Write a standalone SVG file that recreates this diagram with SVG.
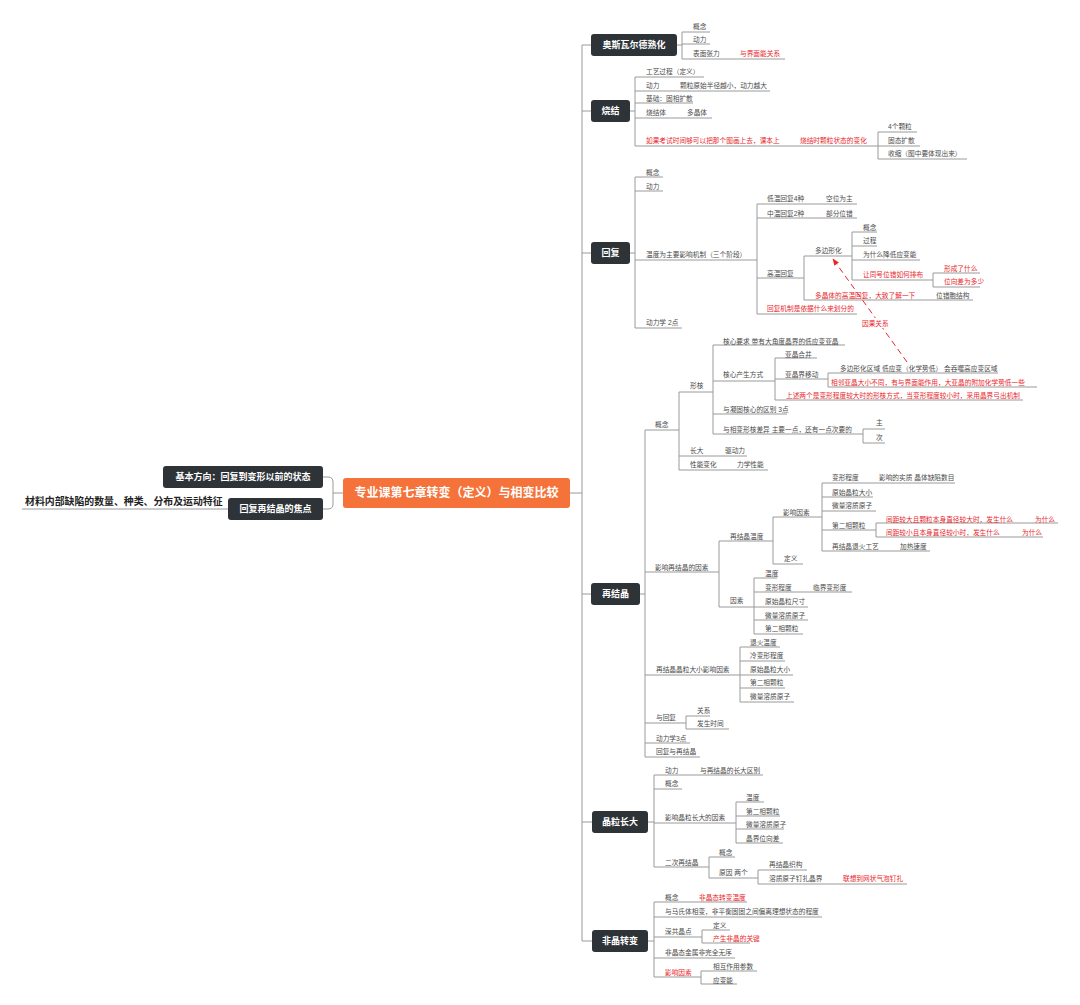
<svg xmlns="http://www.w3.org/2000/svg" width="1080" height="1005" viewBox="0 0 1080 1005">
<defs>
<style>
text{font-family:"Liberation Sans","Noto Sans CJK SC",sans-serif;dominant-baseline:central}
.t{font-size:6.7px;fill:#4a4a4a}
.r{font-size:6.7px;fill:#e8262b}
.n{fill:#2e3338}
.nt{font-size:9px;font-weight:bold;fill:#fff;text-anchor:middle}
.ln{fill:none;stroke:#9a9a9a;stroke-width:1}
.dash{fill:none;stroke:#e8262b;stroke-width:1;stroke-dasharray:6 4}
</style>
<marker id="ah" viewBox="0 0 10 10" refX="9" refY="5" markerWidth="7" markerHeight="7" orient="auto"><path d="M0,1 L10,5 L0,9 z" fill="#e8262b"/></marker>
</defs>
<rect width="1080" height="1005" fill="#fff"/>
<g id="connectors">
<path class="ln" d="M582,45 V941 M570,493 H582 M582,45 H591 M582,111 H591 M582,253 H591 M582,594 H591 M582,822 H592 M582,941 H592"/>
<path class="ln" d="M343,493 H333 M323,477 H328 Q333,477 333,482 V504 Q333,509 328,509 H323 M22,509 H228"/>
<path class="ln" d="M677,45 H682 M682,32 V59 M682,32 H710 M682,44 H710 M682,59 H785"/>
<path class="ln" d="M630,111 H635 M635,77 V146 M635,77 H704 M635,91 H770 M635,103 H693 M635,118 H712 M635,146 H878 M878,132 V159 M878,132 H917 M878,146 H920 M878,159 H967"/>
<path class="ln" d="M630,253 H635 M635,177 V328 M635,177 H663 M635,191 H663 M635,260 H757 M635,328 H682 M757,204 V314 M757,204 H857 M757,218 H857 M757,278 H804 M757,314 H857 M804,256 V300 M804,256 H852 M804,300 H973 M852,232 V280 M852,232 H877 M852,246 H877 M852,260 H920 M852,280 H933 M933,273 V287 M933,273 H980 M933,287 H980"/>
<path class="ln" d="M640,594 H645 M645,430 V757 M645,430 H679 M679,392 V470 M679,392 H713 M679,456 H747 M679,470 H768 M713,345 V434 M713,345 H845 M713,381 H775 M713,414 H787 M713,434 H863 M775,358 V400 M775,358 H817 M775,379 H828 M775,400 H1023 M828,373 V387 M828,373 H998 M828,387 H1037 M863,429 V443 M863,429 H885 M863,443 H885"/>
<path class="ln" d="M645,572 H719 M719,541 V607 M719,541 H773 M719,607 H754 M773,517 V564 M773,517 H822 M773,564 H803 M822,483 V551 M822,483 H955 M822,497 H873 M822,511 H876 M822,530 H876 M822,551 H930 M876,523 V537 M876,523 H1058 M876,537 H1043 M754,578 V634 M754,578 H777 M754,592 H852 M754,607 H808 M754,620 H808 M754,634 H803"/>
<path class="ln" d="M645,675 H740 M740,647 V702 M740,647 H780 M740,661 H785 M740,675 H793 M740,688 H785 M740,702 H794 M645,723 H686 M686,716 V729 M686,716 H710 M686,729 H729 M645,743 H690 M645,757 H700"/>
<path class="ln" d="M648,822 H654 M654,775 V867 M654,775 H763 M654,789 H682 M654,823 H736 M654,867 H709 M736,802 V843 M736,802 H764 M736,816 H780 M736,829 H784 M736,843 H783 M709,857 V878 M709,857 H735 M709,878 H758 M758,870 V884 M758,870 H807 M758,884 H907"/>
<path class="ln" d="M648,941 H654 M654,902 V977 M654,902 H747 M654,917 H822 M654,937 H702 M654,958 H735 M654,977 H701 M702,930 V943 M702,930 H730 M702,943 H750 M701,971 V984 M701,971 H757 M701,984 H737"/>
<path class="dash" d="M907,362 L833,259" marker-end="url(#ah)"/>
<rect x="861" y="318" width="29" height="10" fill="#fff"/>
<text class="r" x="862" y="323">因果关系</text>
</g>
<g id="root"><rect x="343" y="478" width="227" height="30" rx="3" fill="#f5733a"/><text x="456.5" y="493" font-size="12" font-weight="bold" fill="#fff" text-anchor="middle">专业课第七章转变（定义）与相变比较</text></g>
<g id="left-direction"><rect class="n" x="163" y="466" width="160" height="22" rx="3"/><text class="nt" x="243" y="477">基本方向：回复到变形以前的状态</text></g>
<g id="left-focus"><rect class="n" x="228" y="498" width="95" height="22" rx="3"/><text class="nt" x="275.5" y="509">回复再结晶的焦点</text><text x="25" y="501" font-size="9.9" font-weight="bold" fill="#222">材料内部缺陷的数量、种类、分布及运动特征</text></g>
<g id="ostwald"><rect class="n" x="591" y="34" width="86" height="22" rx="3"/><text class="nt" x="634" y="45">奥斯瓦尔德熟化</text>
<text class="t" x="693" y="26">概念</text><text class="t" x="693" y="39">动力</text><text class="t" x="693" y="53">表面张力</text><text class="r" x="740" y="53">与界面能关系</text></g>
<g id="sinter"><rect class="n" x="591" y="100" width="39" height="22" rx="3"/><text class="nt" x="610.5" y="111">烧结</text>
<text class="t" x="646" y="71">工艺过程（定义）</text><text class="t" x="646" y="85">动力</text><text class="t" x="680" y="85">颗粒原始半径越小，动力越大</text><text class="t" x="646" y="98">基础：固相扩散</text><text class="t" x="646" y="112">烧结体</text><text class="t" x="687" y="112">多晶体</text>
<text class="r" x="646" y="140">如果考试时间够可以把那个图画上去，课本上</text><text class="r" x="800" y="140">烧结时颗粒状态的变化</text>
<text class="t" x="888" y="126">4个颗粒</text><text class="t" x="888" y="140">固态扩散</text><text class="t" x="888" y="153">收缩（图中要体现出来）</text></g>
<g id="recovery"><rect class="n" x="591" y="242" width="39" height="22" rx="3"/><text class="nt" x="610.5" y="253">回复</text>
<text class="t" x="646" y="172">概念</text><text class="t" x="646" y="186">动力</text><text class="t" x="646" y="254">温度为主要影响机制（三个阶段）</text><text class="t" x="646" y="322">动力学 2点</text>
<text class="t" x="767" y="198">低温回复4种</text><text class="t" x="826" y="198">空位为主</text><text class="t" x="767" y="213">中温回复2种</text><text class="t" x="826" y="213">部分位错</text><text class="t" x="767" y="273">高温回复</text><text class="r" x="767" y="308">回复机制是依据什么来划分的</text>
<text class="t" x="815" y="250">多边形化</text><text class="r" x="815" y="295">多晶体的高温回复，大致了解一下</text><text class="t" x="936" y="295">位错胞结构</text>
<text class="t" x="863" y="227">概念</text><text class="t" x="863" y="240">过程</text><text class="t" x="863" y="254">为什么降低应变能</text><text class="r" x="863" y="274">让同号位错如何排布</text>
<text class="r" x="944" y="268">形成了什么</text><text class="r" x="944" y="281">位向差为多少</text></g>
<g id="recrystallization"><rect class="n" x="591" y="583" width="49" height="22" rx="3"/><text class="nt" x="615.5" y="594">再结晶</text>
<text class="t" x="655" y="424">概念</text><text class="t" x="690" y="385">形核</text>
<text class="t" x="723" y="341">核心要求 带有大角度晶界的低应变亚晶</text><text class="t" x="723" y="374">核心产生方式</text>
<text class="t" x="785" y="354">亚晶合并</text><text class="t" x="785" y="374">亚晶界移动</text>
<text class="t" x="840" y="368">多边形化区域 低应变（化学势低） 会吞噬高应变区域</text>
<text class="r" x="831" y="382">相邻亚晶大小不同，有与界面能作用，大亚晶的附加化学势低一些</text>
<text class="r" x="786" y="395">上述两个是变形程度较大时的形核方式，当变形程度较小时，采用晶界弓出机制</text>
<text class="t" x="723" y="409">与凝固核心的区别 3点</text><text class="t" x="723" y="429">与相变形核差异 主要一点，还有一点次要的</text>
<text class="t" x="876" y="422">主</text><text class="t" x="876" y="437">次</text>
<text class="t" x="690" y="450">长大</text><text class="t" x="725" y="450">驱动力</text><text class="t" x="690" y="464">性能变化</text><text class="t" x="737" y="464">力学性能</text>
<text class="t" x="655" y="567">影响再结晶的因素</text><text class="t" x="730" y="536">再结晶温度</text><text class="t" x="783" y="512">影响因素</text>
<text class="t" x="832" y="477">变形程度</text><text class="t" x="879" y="477">影响的实质 晶体缺陷数目</text><text class="t" x="832" y="492">原始晶粒大小</text><text class="t" x="832" y="505">微量溶质原子</text><text class="t" x="832" y="525">第二相颗粒</text>
<text class="r" x="886" y="519">间距较大且颗粒本身直径较大时，发生什么</text><text class="r" x="1035" y="519">为什么</text>
<text class="r" x="886" y="532">间距较小且本身直径较小时，发生什么</text><text class="r" x="1022" y="532">为什么</text>
<text class="t" x="832" y="546">再结晶退火工艺</text><text class="t" x="900" y="546">加热速度</text><text class="t" x="784" y="558">定义</text>
<text class="t" x="730" y="600">因素</text><text class="t" x="765" y="573">温度</text><text class="t" x="765" y="587">变形程度</text><text class="t" x="813" y="587">临界变形度</text><text class="t" x="765" y="601">原始晶粒尺寸</text><text class="t" x="765" y="615">微量溶质原子</text><text class="t" x="765" y="628">第二相颗粒</text>
<text class="t" x="656" y="669">再结晶晶粒大小影响因素</text>
<text class="t" x="750" y="642">退火温度</text><text class="t" x="750" y="655">冷变形程度</text><text class="t" x="750" y="669">原始晶粒大小</text><text class="t" x="750" y="682">第二相颗粒</text><text class="t" x="750" y="696">微量溶质原子</text>
<text class="t" x="656" y="717">与回复</text><text class="t" x="697" y="710">关系</text><text class="t" x="697" y="723">发生时间</text>
<text class="t" x="656" y="738">动力学3点</text><text class="t" x="656" y="751">回复与再结晶</text></g>
<g id="graingrowth"><rect class="n" x="592" y="811" width="56" height="22" rx="3"/><text class="nt" x="620" y="822">晶粒长大</text>
<text class="t" x="665" y="770">动力</text><text class="t" x="700" y="770">与再结晶的长大区别</text><text class="t" x="665" y="783">概念</text><text class="t" x="665" y="817">影响晶粒长大的因素</text>
<text class="t" x="746" y="797">温度</text><text class="t" x="746" y="811">第二相颗粒</text><text class="t" x="746" y="824">微量溶质原子</text><text class="t" x="746" y="838">晶界位向差</text>
<text class="t" x="665" y="862">二次再结晶</text><text class="t" x="719" y="852">概念</text><text class="t" x="719" y="872">原因 两个</text>
<text class="t" x="769" y="864">再结晶织构</text><text class="t" x="769" y="878">溶质原子钉扎晶界</text><text class="r" x="843" y="878">联想到网状气泡钉扎</text></g>
<g id="amorphous"><rect class="n" x="592" y="930" width="56" height="22" rx="3"/><text class="nt" x="620" y="941">非晶转变</text>
<text class="t" x="665" y="897">概念</text><text class="r" x="699" y="897">非晶态转变温度</text>
<text class="t" x="665" y="911">与马氏体相变，非平衡固固之间偏离理想状态的程度</text>
<text class="t" x="665" y="931">深共晶点</text><text class="t" x="713" y="925">定义</text><text class="r" x="713" y="938">产生非晶的关键</text>
<text class="t" x="665" y="952">非晶态金属非完全无序</text>
<text class="r" x="665" y="972">影响因素</text><text class="t" x="713" y="966">相互作用参数</text><text class="t" x="713" y="980">应变能</text></g>
</svg>
